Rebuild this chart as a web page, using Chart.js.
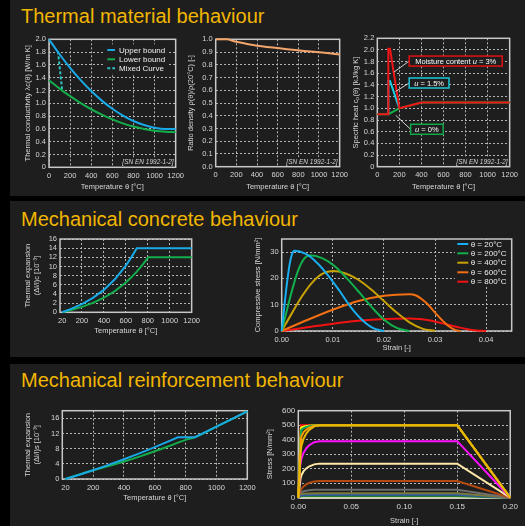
<!DOCTYPE html>
<html>
<head>
<meta charset="utf-8">
<title>Material behaviour</title>
<script src="https://cdn.jsdelivr.net/npm/chart.js@4.4.1/dist/chart.umd.min.js"></script>
<style>
  html, body { margin: 0; padding: 0; background: #000; width: 525px; height: 526px; overflow: hidden; }
  body { position: relative; font-family: "Liberation Sans", Arial, sans-serif; }
  .sec { position: absolute; left: 10px; width: 515px; background: #1e1e1e; }
  .ttl { position: absolute; left: 21px; color: #f2b600; font-size: 20px; line-height: 20px; white-space: nowrap; }
  canvas { position: absolute; }
</style>
</head>
<body>
<div class="sec" style="top:0;height:196px"></div>
<div class="sec" style="top:201px;height:156px"></div>
<div class="sec" style="top:364px;height:162px"></div>
<div class="ttl" style="top:6px">Thermal material behaviour</div>
<div class="ttl" style="top:209px">Mechanical concrete behaviour</div>
<div class="ttl" style="top:370px">Mechanical reinforcement behaviour</div>
<canvas id="c1" width="176" height="167" style="left:12px;top:28px"></canvas>
<canvas id="c2" width="170" height="167" style="left:182px;top:28px"></canvas>
<canvas id="c3" width="176" height="167" style="left:346px;top:28px"></canvas>
<canvas id="c4" width="192" height="120" style="left:12px;top:226px"></canvas>
<canvas id="c5" width="282" height="130" style="left:240px;top:226px"></canvas>
<canvas id="c6" width="248" height="128" style="left:12px;top:396px"></canvas>
<canvas id="c7" width="264" height="130" style="left:258px;top:396px"></canvas>
<script>
// ---- data ----
// tick labels
const tempTicks = [0, 200, 400, 600, 800, 1000, 1200];
const tempTicks20 = [20, 200, 400, 600, 800, 1000, 1200];
const condTicks = [0, 0.2, 0.4, 0.6, 0.8, 1.0, 1.2, 1.4, 1.6, 1.8, 2.0];
const densTicks = [0, 0.1, 0.2, 0.3, 0.4, 0.5, 0.6, 0.7, 0.8, 0.9, 1.0];
const heatTicks = [0, 0.2, 0.4, 0.6, 0.8, 1.0, 1.2, 1.4, 1.6, 1.8, 2.0, 2.2];
const cexpTicks = [0, 2, 4, 6, 8, 10, 12, 14, 16];
const cStrainTicks = [0, 0.01, 0.02, 0.03, 0.04];
const cStressTicks = [0, 10, 20, 30];
const sexpTicks = [0, 4, 8, 12, 16];
const sStrainTicks = [0, 0.05, 0.10, 0.15, 0.20];
const sStressTicks = [0, 100, 200, 300, 400, 500, 600];

// thermal conductivity [W/m K]
const condTemp = [0, 100, 200, 300, 400, 500, 600, 700, 800, 900, 1000, 1100, 1200];
const condUpper = [2.0, 1.766, 1.553, 1.361, 1.191, 1.042, 0.915, 0.809, 0.724, 0.661, 0.619, 0.599, 0.600];
const condLower = [1.36, 1.230, 1.111, 1.003, 0.907, 0.823, 0.749, 0.687, 0.637, 0.598, 0.570, 0.554, 0.549];
const mixedTemp = [85, 125];
const mixedCond = [1.81, 1.20];

// density ratio [-]
const densTemp = [0, 115, 200, 400, 1200];
const densRatio = [1.0, 1.0, 0.98, 0.95, 0.88];

// specific heat [kJ/kg K]
const heatTemp3 = [0, 100, 100, 115, 200, 400, 1200];
const heatU3 = [0.9, 0.9, 2.02, 2.02, 1.0, 1.1, 1.1];
const heatTemp15 = [100, 100, 115, 200];
const heatU15 = [0.9, 1.47, 1.47, 1.0];
const heatTemp0 = [0, 100, 200, 400, 1200];
const heatU0 = [0.9, 0.9, 1.0, 1.1, 1.1];

// concrete thermal expansion [1e-3]
const cexpTempA = [20, 100, 200, 300, 400, 500, 600, 650, 700, 1200];
const cexpA = [0, 0.74, 1.80, 3.14, 4.89, 7.20, 10.19, 11.99, 14.0, 14.0];
const cexpTempB = [20, 100, 200, 300, 400, 500, 600, 650, 700, 750, 805, 1200];
const cexpB = [0, 0.49, 1.19, 2.06, 3.18, 4.63, 6.50, 7.63, 8.88, 10.29, 12.0, 12.0];

// concrete stress-strain [N/mm2]
const cs20Strain = [0, 0.0005, 0.001, 0.0015, 0.002, 0.0025, 0.0047, 0.0069, 0.0091, 0.0113, 0.0134, 0.0156, 0.0178, 0.020];
const cs20Stress = [0, 9.1, 17.7, 24.8, 29.1, 30.5, 29.3, 26.0, 21.1, 15.3, 9.4, 4.5, 1.2, 0];
const cs200Strain = [0, 0.0011, 0.0022, 0.0033, 0.0044, 0.0055, 0.0079, 0.0104, 0.0128, 0.0153, 0.0177, 0.0201, 0.0226, 0.025];
const cs200Stress = [0, 8.6, 16.7, 23.4, 27.5, 28.8, 27.7, 24.6, 19.9, 14.4, 8.9, 4.2, 1.1, 0];
const cs400Strain = [0, 0.002, 0.004, 0.006, 0.008, 0.010, 0.0125, 0.015, 0.0175, 0.020, 0.0225, 0.025, 0.0275, 0.030];
const cs400Stress = [0, 6.8, 13.3, 18.5, 21.8, 22.8, 21.9, 19.5, 15.8, 11.4, 7.0, 3.3, 0.9, 0];
const cs600Strain = [0, 0.005, 0.010, 0.015, 0.020, 0.025, 0.0263, 0.0275, 0.0288, 0.030, 0.0313, 0.0325, 0.0338, 0.035];
const cs600Stress = [0, 4.2, 8.1, 11.4, 13.4, 14.0, 13.5, 12.0, 9.7, 7.0, 4.3, 2.1, 0.5, 0];
const cs800Strain = [0, 0.005, 0.010, 0.015, 0.020, 0.025, 0.0269, 0.0288, 0.0306, 0.0325, 0.0344, 0.0363, 0.0381, 0.040];
const cs800Stress = [0, 1.4, 2.8, 3.9, 4.6, 4.8, 4.6, 4.1, 3.3, 2.4, 1.5, 0.7, 0.2, 0];

// steel thermal expansion [1e-3]
const sexpTempA = [20, 100, 200, 300, 400, 500, 600, 700, 750, 860, 1000, 1200];
const sexpA = [0, 1.0, 2.32, 3.72, 5.20, 6.76, 8.40, 10.12, 11.01, 11.0, 13.8, 17.8];
const sexpTempB = [20, 200, 300, 400, 500, 600, 700, 800, 860, 1000, 1200];
const sexpB = [0, 2.3, 3.4, 4.6, 5.9, 7.3, 8.8, 10.3, 11.0, 13.8, 17.8];

// steel stress-strain [N/mm2]
const s20Strain = [0, 0.0025, 0.15, 0.20];
const s20Stress = [0, 500, 500, 0];
const s100Strain = [0, 0.0024, 0.003, 0.005, 0.0075, 0.01, 0.015, 0.02, 0.15, 0.20];
const s100Stress = [0, 480, 485, 490, 494, 496, 499, 500, 500, 0];
const s200Strain = [0, 0.0026, 0.003, 0.005, 0.0075, 0.01, 0.015, 0.02, 0.15, 0.20];
const s200Stress = [0, 460, 469, 480, 488, 493, 498, 500, 500, 0];
const s300Strain = [0, 0.0025, 0.003, 0.005, 0.0075, 0.01, 0.015, 0.02, 0.15, 0.20];
const s300Stress = [0, 405, 424, 452, 470, 482, 496, 500, 500, 0];
const s400Strain = [0, 0.00225, 0.003, 0.005, 0.0075, 0.01, 0.015, 0.02, 0.15, 0.20];
const s400Stress = [0, 315, 359, 407, 442, 465, 492, 500, 500, 0];
const s500Strain = [0, 0.0018, 0.003, 0.005, 0.0075, 0.01, 0.015, 0.02, 0.15, 0.20];
const s500Stress = [0, 220, 271, 310, 340, 360, 383, 390, 390, 0];
const s600Strain = [0, 0.0021, 0.003, 0.005, 0.0075, 0.01, 0.015, 0.02, 0.15, 0.20];
const s600Stress = [0, 130, 156, 183, 202, 215, 230, 235, 235, 0];
const s700Strain = [0, 0.0015, 0.003, 0.005, 0.0075, 0.01, 0.015, 0.02, 0.15, 0.20];
const s700Stress = [0, 40, 62, 78, 92, 101, 112, 115, 115, 0];
const s800Strain = [0, 0.0017, 0.003, 0.005, 0.0075, 0.01, 0.015, 0.02, 0.15, 0.20];
const s800Stress = [0, 30, 38, 44, 48, 51, 54, 55, 55, 0];
const s900Strain = [0, 0.0018, 0.005, 0.01, 0.02, 0.15, 0.20];
const s900Stress = [0, 25, 27.5, 29, 30, 30, 0];
const s1000Strain = [0, 0.0019, 0.005, 0.01, 0.02, 0.15, 0.20];
const s1000Stress = [0, 15, 17.5, 19, 20, 20, 0];
const s1100Strain = [0, 0.0025, 0.15, 0.20];
const s1100Stress = [0, 10, 10, 0];
const s1200Strain = [0, 0.20];
const s1200Stress = [0, 0];

// callout labels on the specific heat chart (anchor and pointer in data units)
const heatCallouts = [
  { parts: [{ t: 'Moisture content ' }, { t: 'u', i: true }, { t: ' = 3%' }], color: '#e01010', x: 289, y: 1.81, tx: 150, ty: 1.62, pad: 6 },
  { parts: [{ t: 'u', i: true }, { t: ' = 1.5%' }], color: '#19c8d8', x: 289, y: 1.434, tx: 167, ty: 1.29, pad: 5 },
  { parts: [{ t: 'u', i: true }, { t: ' = 0%' }], color: '#10a848', x: 302, y: 0.641, tx: 167, ty: 0.88, pad: 4.5 }
];

// ---- drawing ----
const FF = '"Liberation Sans", Arial, sans-serif';
const TXT = '#d6d6d6';
const GRID = '#b4b4b4';
const FRAME = '#c8c8c8';
const PANEL = '#1e1e1e';
Chart.defaults.font.family = FF;
Chart.defaults.color = TXT;

const pts = (xs, ys) => xs.map((x, i) => ({ x: x, y: ys[i] }));

function line(label, xs, ys, color, extra) {
  return Object.assign({
    label: label, data: pts(xs, ys), borderColor: color, backgroundColor: color,
    borderWidth: 2, pointRadius: 0, fill: false, tension: 0, clip: false
  }, extra || {});
}

function axis(c) {
  return {
    type: 'linear', min: c.min, max: c.max,
    afterBuildTicks: s => { s.ticks = c.ticks.map(v => ({ value: v })); },
    afterFit: s => { if (c.w !== undefined) s.width = c.w; if (c.h !== undefined) s.height = c.h; },
    ticks: {
      autoSkip: false, maxRotation: 0, padding: c.tp !== undefined ? c.tp : 3,
      color: TXT, font: { size: c.fs || 7.5 }, callback: c.fmt || (v => String(v))
    },
    grid: {
      color: ctx => (c.noGrid && ctx.tick && c.noGrid.includes(ctx.tick.value)) ? 'rgba(0,0,0,0)' : GRID,
      drawTicks: false, lineWidth: 1
    },
    border: { display: false, dash: [2, 2] },
    title: { display: true, text: c.title, color: TXT, font: { size: 7.5, lineHeight: c.lh || 1.2 }, padding: c.tpad }
  };
}

const framePlugin = {
  id: 'frame',
  beforeDatasetsDraw(chart) {
    const { ctx, chartArea: a } = chart;
    ctx.save();
    ctx.strokeStyle = FRAME;
    ctx.lineWidth = 1.5;
    ctx.strokeRect(a.left, a.top, a.right - a.left, a.bottom - a.top);
    ctx.restore();
  }
};

function legendPlugin(o) {
  return {
    id: 'innerLegend',
    beforeDatasetsDraw(chart) {
      if (!o) return;
      const { ctx, chartArea: a } = chart;
      ctx.save();
      ctx.fillStyle = PANEL;
      ctx.fillRect(a.left + o.box[0], a.top + o.box[1], o.box[2], o.box[3]);
      ctx.font = o.size + 'px ' + FF;
      ctx.textBaseline = 'middle';
      ctx.textAlign = 'left';
      chart.data.datasets.forEach((d, i) => {
        const y = a.top + o.rows[i];
        ctx.strokeStyle = d.borderColor;
        ctx.lineWidth = 2;
        ctx.setLineDash(d.borderDash || []);
        ctx.beginPath();
        ctx.moveTo(a.left + o.line[0], y);
        ctx.lineTo(a.left + o.line[1], y);
        ctx.stroke();
        ctx.setLineDash([]);
        ctx.fillStyle = '#eeeeee';
        ctx.fillText(d.label, a.left + o.textX, y + 0.5);
      });
      ctx.restore();
    }
  };
}

function notePlugin(text) {
  return {
    id: 'note',
    beforeDatasetsDraw(chart) {
      if (!text) return;
      const { ctx, chartArea: a } = chart;
      ctx.save();
      ctx.font = 'italic 6.5px ' + FF;
      const w = ctx.measureText(text).width;
      const x = a.right - 2, y = a.bottom - 5;
      ctx.fillStyle = PANEL;
      ctx.fillRect(x - w - 2, y - 4.5, w + 3, 9);
      ctx.fillStyle = TXT;
      ctx.textAlign = 'right';
      ctx.textBaseline = 'middle';
      ctx.fillText(text, x, y);
      ctx.restore();
    }
  };
}

function calloutPlugin(items) {
  return {
    id: 'callouts',
    afterDatasetsDraw(chart) {
      if (!items) return;
      const { ctx, scales: { x, y } } = chart;
      ctx.save();
      items.forEach(it => {
        const bx = x.getPixelForValue(it.x), by = y.getPixelForValue(it.y);
        const tx = x.getPixelForValue(it.tx), ty = y.getPixelForValue(it.ty);
        let w = 0;
        it.parts.forEach(p => { ctx.font = (p.i ? 'italic ' : '') + '7.5px ' + FF; w += ctx.measureText(p.t).width; });
        const bw = w + 2 * it.pad, bh = 10;
        ctx.strokeStyle = '#ffffff';
        ctx.lineWidth = 0.8;
        ctx.beginPath(); ctx.moveTo(bx, by); ctx.lineTo(tx, ty); ctx.stroke();
        ctx.fillStyle = PANEL;
        ctx.fillRect(bx, by - bh / 2, bw, bh);
        ctx.strokeStyle = it.color;
        ctx.lineWidth = 1.5;
        ctx.strokeRect(bx, by - bh / 2, bw, bh);
        ctx.fillStyle = '#ffffff';
        ctx.textBaseline = 'middle';
        ctx.textAlign = 'left';
        let cx = bx + it.pad;
        it.parts.forEach(p => {
          ctx.font = (p.i ? 'italic ' : '') + '7.5px ' + FF;
          ctx.fillText(p.t, cx, by + 0.5);
          cx += ctx.measureText(p.t).width;
        });
      });
      ctx.restore();
    }
  };
}

function makeChart(id, datasets, o) {
  return new Chart(document.getElementById(id), {
    type: 'line',
    data: { datasets: datasets },
    options: {
      responsive: false, animation: false, devicePixelRatio: 1,
      layout: { padding: { top: o.pt, right: o.pr, left: 0, bottom: 0 } },
      scales: { x: axis(o.x), y: axis(o.y) },
      plugins: { legend: { display: false }, tooltip: { enabled: false } }
    },
    plugins: [legendPlugin(o.legend), notePlugin(o.note), calloutPlugin(o.callouts), framePlugin]
  });
}

const f1 = v => v === 0 ? '0' : v.toFixed(1);
const f1all = v => v.toFixed(1);
const f2 = v => v.toFixed(2);
const SMOOTH = { cubicInterpolationMode: 'monotone' };
const NOTE = '[SN EN 1992-1-2]';
const BLUE = '#19a9e6', GREEN = '#13ad4c';

// thermal conductivity
makeChart('c1', [
  line('Upper bound', condTemp, condUpper, BLUE, SMOOTH),
  line('Lower bound', condTemp, condLower, GREEN, SMOOTH),
  line('Mixed Curve', mixedTemp, mixedCond, '#2cc2c2', { borderDash: [3, 2] })
], {
  pt: 11.3, pr: 11, note: NOTE,
  legend: { box: [56, 5, 62, 29], rows: [10.7, 20, 29], line: [58.3, 66], textX: 70, size: 8 },
  x: { min: 0, max: 1200, ticks: tempTicks, h: 27.7, tp: 4, title: 'Temperature θ [°C]', tpad: { top: 0, bottom: 3.5 } },
  y: { min: 0, max: 2.0, ticks: condTicks, w: 37, fmt: f1, title: 'Thermal conductivity λc(θ) [W/m K]', tpad: { top: 11.5, bottom: 0 } }
});

// density ratio
makeChart('c2', [
  line('Density', densTemp, densRatio, '#f3a66c', { tension: 0.3 })
], {
  pt: 11.3, pr: 10.3, note: NOTE,
  x: { min: 0, max: 1200, ticks: tempTicks, h: 28.3, tp: 4, title: 'Temperature θ [°C]', tpad: { top: 0, bottom: 3.2 } },
  y: { min: 0, max: 1.0, ticks: densTicks, w: 33.7, fmt: f1all, title: 'Ratio density ρ(θ)/ρ(20°C) [-]', tpad: { top: 4.2, bottom: 0 } }
});

// specific heat
makeChart('c3', [
  line('u = 3%', heatTemp3, heatU3, '#f01414'),
  line('u = 1.5%', heatTemp15, heatU15, '#19d0e2'),
  line('u = 0%', heatTemp0, heatU0, '#10b04a')
], {
  pt: 10.3, pr: 12, note: NOTE, callouts: heatCallouts,
  x: { min: 0, max: 1200, ticks: tempTicks, h: 28.3, tp: 4, title: 'Temperature θ [°C]', tpad: { top: 0, bottom: 3.8 } },
  y: { min: 0, max: 2.2, ticks: heatTicks, w: 31.3, fmt: f1, title: 'Specific heat cₚ(θ) [kJ/kg K]', tpad: { top: 5.5, bottom: 0 } }
});

// concrete thermal expansion
makeChart('c4', [
  line('Siliceous', cexpTempA, cexpA, BLUE),
  line('Calcareous', cexpTempB, cexpB, GREEN)
], {
  pt: 13, pr: 11.7,
  x: { min: 0, max: 1200, ticks: tempTicks20, noGrid: [20], h: 33.7, tp: 4, title: 'Temperature θ [°C]', tpad: { top: 0, bottom: 10.5 } },
  y: { min: 0, max: 16, ticks: cexpTicks, w: 48, lh: 1.12, title: ['Thermal expansion', '(Δl/l)c [10⁻³]'], tpad: { top: 12.1, bottom: 0 } }
});

// concrete stress-strain
makeChart('c5', [
  line('θ = 20°C', cs20Strain, cs20Stress, '#18aef0', SMOOTH),
  line('θ = 200°C', cs200Strain, cs200Stress, '#12b04c', SMOOTH),
  line('θ = 400°C', cs400Strain, cs400Stress, '#c9a204', SMOOTH),
  line('θ = 600°C', cs600Strain, cs600Stress, '#f27012', SMOOTH),
  line('θ = 800°C', cs800Strain, cs800Stress, '#f21212', SMOOTH)
], {
  pt: 13, pr: 10.3,
  legend: { box: [173.3, 1, 56, 47], rows: [5, 14.3, 23.7, 33.3, 42.7], line: [175.6, 186.6], textX: 189, size: 8 },
  x: { min: 0, max: 0.045, ticks: cStrainTicks, h: 25, tp: 4, fmt: f2, title: 'Strain [-]', tpad: { top: 0, bottom: 3.2 } },
  y: { min: 0, max: 35, ticks: cStressTicks, w: 41.7, title: 'Compressive stress [N/mm²]', tpad: { top: 13.8, bottom: 0 } }
});

// steel thermal expansion
makeChart('c6', [
  line('Carbon steel', sexpTempA, sexpA, BLUE),
  line('Reinforcement', sexpTempB, sexpB, GREEN, SMOOTH)
], {
  pt: 14.7, pr: 12.7,
  x: { min: 0, max: 1200, ticks: tempTicks20, noGrid: [20], h: 45, tp: 4, title: 'Temperature θ [°C]', tpad: { top: 0, bottom: 21.2 } },
  y: { min: 0, max: 18, ticks: sexpTicks, w: 50.3, lh: 1.12, title: ['Thermal expansion', '(Δl/l)s [10⁻³]'], tpad: { top: 12.1, bottom: 0 } }
});

// steel stress-strain
makeChart('c7', [
  line('400°C', s400Strain, s400Stress, '#eab800'),
  line('300°C', s300Strain, s300Stress, '#ff9a00'),
  line('200°C', s200Strain, s200Stress, '#10a850'),
  line('100°C', s100Strain, s100Stress, '#ffff10'),
  line('20°C', s20Strain, s20Stress, '#ff1010'),
  line('500°C', s500Strain, s500Stress, '#ff10ff'),
  line('600°C', s600Strain, s600Stress, '#ffe9a8'),
  line('700°C', s700Strain, s700Stress, '#b54a10'),
  line('800°C', s800Strain, s800Stress, '#6e6e6e'),
  line('900°C', s900Strain, s900Stress, '#7a7a3a'),
  line('1000°C', s1000Strain, s1000Stress, '#2a5aa8'),
  line('1100°C', s1100Strain, s1100Stress, '#2a7a2a'),
  line('1200°C', s1200Strain, s1200Stress, '#f4f4dc')
], {
  pt: 14.7, pr: 11.3,
  x: { min: 0, max: 0.2, ticks: sStrainTicks, h: 28.3, tp: 4, fs: 8, fmt: f2, title: 'Strain [-]', tpad: { top: 0, bottom: 0.8 } },
  y: { min: 0, max: 600, ticks: sStressTicks, w: 40.3, fs: 8, title: 'Stress [N/mm²]', tpad: { top: 7.5, bottom: 0 } }
});
</script>
</body>
</html>
